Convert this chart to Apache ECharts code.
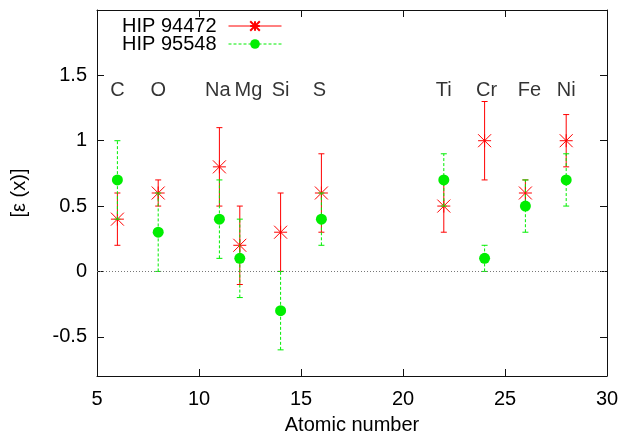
<!DOCTYPE html>
<html><head><meta charset="utf-8">
<script src="https://cdn.jsdelivr.net/npm/echarts@6/dist/echarts.min.js"></script>
<style>html,body{margin:0;padding:0;background:#fff}#c{width:630px;height:434px}</style>
</head><body><div id="c"></div>
<script>
const elements = ['C','O','Na','Mg','Si','S','Ti','Cr','Fe','Ni'];
const atomicNumbers = [6,8,11,12,14,16,22,24,26,28];
const labelX = [6,8,10.92,12.42,14,15.9,22,24.1,26.2,28];
const labelY = 1.385;
const hip94472 = [0.4,0.6,0.8,0.2,0.3,0.6,0.5,1.0,0.6,1.0];
const hip94472Err = [0.2,0.1,0.3,0.3,0.3,0.3,0.2,0.3,0.1,0.2];
const hip95548 = [0.7,0.3,0.4,0.1,-0.3,0.4,0.7,0.1,0.5,0.7];
const hip95548Err = [0.3,0.3,0.3,0.3,0.3,0.2,0.2,0.1,0.2,0.2];
const xTicks = [5,10,15,20,25,30];
const yTicks = [-0.5,0,0.5,1,1.5];
const seriesNames = ['HIP 94472','HIP 95548'];

const FONT = '"Liberation Sans", Arial, sans-serif';
const FS = 20;
const RED = '#ff0000';
const GREEN = '#00ee00';
const ASTERISK = 'path://M0,-1L0,1M-1,0L1,0M-1,-1L1,1M-1,1L1,-1';

function errorBars(vals, errs, color, dash, z) {
  return {
    type: 'custom', silent: true, z: z,
    data: atomicNumbers.map((x, i) => [x, vals[i] - errs[i], vals[i] + errs[i]]),
    encode: { x: 0, y: [1, 2] },
    renderItem: function (params, api) {
      const lo = api.coord([api.value(0), api.value(1)]);
      const hi = api.coord([api.value(0), api.value(2)]);
      const w = 3;
      const st = { stroke: color, lineWidth: 1, lineDash: dash };
      const cs = { stroke: color, lineWidth: 1 };
      return { type: 'group', children: [
        { type: 'line', shape: { x1: lo[0], y1: lo[1], x2: hi[0], y2: hi[1] }, style: st },
        { type: 'line', shape: { x1: lo[0] - w, y1: lo[1], x2: lo[0] + w, y2: lo[1] }, style: cs },
        { type: 'line', shape: { x1: hi[0] - w, y1: hi[1], x2: hi[0] + w, y2: hi[1] }, style: cs }
      ]};
    }
  };
}

const axisLineStyle = { color: '#111', width: 1 };
const tickCfg = { show: true, inside: true, length: 7, lineStyle: { color: '#111', width: 1 } };

const chart = echarts.init(document.getElementById('c'), null, { renderer: 'canvas' });
chart.setOption({
  animation: false,
  backgroundColor: '#fff',
  textStyle: { fontFamily: FONT },
  grid: { left: 97, right: 23, top: 10, bottom: 58, containLabel: false, outerBoundsMode: 'none' },
  legend: {
    orient: 'vertical', left: 122, top: 16, padding: 0,
    align: 'right', itemWidth: 53, itemHeight: 12, itemGap: -2,
    textStyle: { fontSize: FS, fontFamily: FONT, color: '#000', lineHeight: 19, padding: [0, 7, 0, 0] },
    data: [
      { name: seriesNames[0], lineStyle: { opacity: 1, width: 1, color: RED, type: 'solid' } },
      { name: seriesNames[1], lineStyle: { opacity: 1, width: 1, color: GREEN, type: [3, 2] } }
    ]
  },
  xAxis: [
    { type: 'value', min: 5, max: 30, interval: 5, position: 'bottom',
      axisLine: { show: true, onZero: false, lineStyle: axisLineStyle }, axisTick: tickCfg,
      splitLine: { show: false },
      axisLabel: { fontSize: FS, fontFamily: FONT, color: '#000', margin: 13 },
      name: 'Atomic number', nameLocation: 'middle', nameGap: 39,
      nameTextStyle: { fontSize: FS, fontFamily: FONT, color: '#000' } },
    { type: 'value', min: 5, max: 30, interval: 5, position: 'top',
      axisLine: { show: true, onZero: false, lineStyle: axisLineStyle }, axisTick: tickCfg,
      splitLine: { show: false }, axisLabel: { show: false } }
  ],
  yAxis: [
    { type: 'value', min: -0.8, max: 2.0, position: 'left',
      axisLine: { show: true, onZero: false, lineStyle: axisLineStyle },
      axisTick: Object.assign({ customValues: yTicks }, tickCfg),
      splitLine: { show: false },
      axisLabel: { customValues: yTicks, fontSize: FS, fontFamily: FONT, color: '#000', margin: 10 },
      name: '[ε (x)]', nameLocation: 'middle', nameGap: 68, nameRotate: 90,
      nameTextStyle: { fontSize: FS, fontFamily: FONT, color: '#000' } },
    { type: 'value', min: -0.8, max: 2.0, position: 'right',
      axisLine: { show: true, onZero: false, lineStyle: axisLineStyle },
      axisTick: Object.assign({ customValues: yTicks }, tickCfg),
      splitLine: { show: false }, axisLabel: { show: false } }
  ],
  series: [
    { type: 'scatter', silent: true, z: 1, symbolSize: 0,
      data: labelX.map((x) => [x, labelY]),
      label: { show: true, position: 'inside', formatter: (p) => elements[p.dataIndex],
               fontSize: FS, fontFamily: FONT, color: '#000' },
      markLine: { silent: true, symbol: 'none', label: { show: false },
        lineStyle: { type: [1, 2], color: '#777', width: 1 },
        data: [{ yAxis: 0 }] } },
    errorBars(hip94472, hip94472Err, RED, null, 2),
    { type: 'line', name: seriesNames[0], z: 3, symbol: ASTERISK, symbolSize: 13,
      showSymbol: true, silent: true,
      itemStyle: { color: 'none', borderColor: RED, borderWidth: 1 },
      lineStyle: { opacity: 0 },
      data: atomicNumbers.map((x, i) => [x, hip94472[i]]) },
    errorBars(hip95548, hip95548Err, GREEN, [3, 2], 4),
    { type: 'line', name: seriesNames[1], z: 5, symbol: 'circle', symbolSize: 11,
      showSymbol: true, silent: true,
      itemStyle: { color: GREEN, borderWidth: 0 },
      lineStyle: { opacity: 0 },
      data: atomicNumbers.map((x, i) => [x, hip95548[i]]) }
  ]
});
</script>
</body></html>
